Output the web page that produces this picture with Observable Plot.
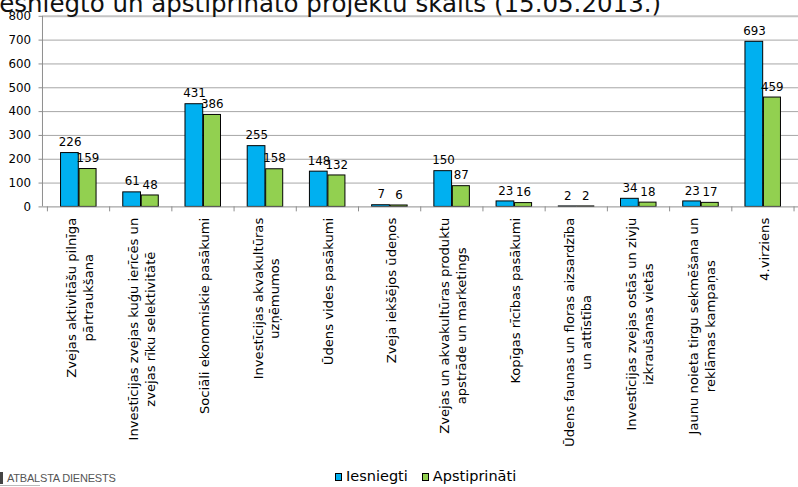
<!DOCTYPE html>
<html><head><meta charset="utf-8">
<script src="https://cdn.jsdelivr.net/npm/d3@7"></script>
<script src="https://cdn.jsdelivr.net/npm/@observablehq/plot@0.6"></script>
<style>
html,body{margin:0;padding:0;background:#fff;overflow:hidden}
#wrap{position:relative;width:798px;height:487px;overflow:hidden;font-family:"DejaVu Sans",sans-serif;color:#000}
#chart{position:absolute;left:0;top:0}
#title{position:absolute;left:-8px;top:-8px;font-size:24.5px;line-height:24px;white-space:nowrap;color:#111}
#legend{position:absolute;top:468px;left:335px;font-size:14.5px;line-height:16px;display:flex;align-items:center}
#legend .it{display:flex;align-items:center;margin-right:14px}
#legend .sw{width:5px;height:6px;border:1px solid #000;margin-right:4px;margin-top:2px}
#logo{position:absolute;left:0;top:472px;font-family:"Liberation Sans",sans-serif;font-size:11px;color:#555;letter-spacing:-0.2px;border-left:3px solid #444;padding-left:4px;line-height:12px}
#logoline{position:absolute;left:0;top:485px;width:40px;height:1px;background:#bbb}
</style></head><body>
<div id="wrap">
<div id="chart"></div>
<div id="title">Iesniegto un apstiprināto projektu skaits (15.05.2013.)</div>
<div id="legend"></div>
<div id="logo">ATBALSTA DIENESTS</div>
<div id="logoline"></div>
</div>
<script>
const categories = [
  "Zvejas aktivitāšu pilnīga\npārtraukšana",
  "Investīcijas zvejas kuģu ierīcēs un\nzvejas rīku selektivitātē",
  "Sociāli ekonomiskie pasākumi",
  "Investīcijas akvakultūras\nuzņēmumos",
  "Ūdens vides pasākumi",
  "Zveja iekšējos ūdeņos",
  "Zvejas un akvakultūras produktu\napstrāde un marketings",
  "Kopīgas rīcības pasākumi",
  "Ūdens faunas un floras aizsardzība\nun attīstība",
  "Investīcijas zvejas ostās un zivju\nizkraušanas vietās",
  "Jaunu noieta tirgu sekmēšana un\nreklāmas kampaņas",
  "4.virziens"
];
const iesniegti = [226, 61, 431, 255, 148, 7, 150, 23, 2, 34, 23, 693];
const apstiprinati = [159, 48, 386, 158, 132, 6, 87, 16, 2, 18, 17, 459];
const seriesNames = ["Iesniegti", "Apstiprināti"];
const seriesColors = ["#00B0F0", "#92D050"];
const yTicks = [0, 100, 200, 300, 400, 500, 600, 700, 800];

const rows = categories.map((c, i) => ({cat: c, v1: iesniegti[i], v2: apstiprinati[i]}));

// custom mark: y-axis line and category boundary ticks, using Plot's scales
function axisLines(index, scales, values, dims) {
  const g = d3.create("svg:g");
  const x = scales.x, y = scales.y;
  const bw = x.bandwidth();
  const y0 = y(0);
  const xs = categories.map(c => x(c)).concat([x(categories[categories.length - 1]) + bw]);
  g.selectAll("line.t").data(xs).join("line")
    .attr("x1", d => d).attr("x2", d => d)
    .attr("y1", y0).attr("y2", y0 + 5)
    .attr("stroke", "#8c8c8c");
  g.append("line")
    .attr("x1", dims.marginLeft).attr("x2", dims.marginLeft)
    .attr("y1", y(800)).attr("y2", y0)
    .attr("stroke", "#8c8c8c");
  return g.node();
}

const plot = Plot.plot({
  width: 808,
  height: 465,
  marginLeft: 43,
  marginRight: 0,
  marginTop: 16,
  marginBottom: 256,
  style: {fontFamily: "DejaVu Sans", fontSize: "12px", color: "#000", background: "transparent"},
  x: {domain: categories, padding: 0},
  y: {domain: [0, 800]},
  marks: [
    Plot.ruleY(yTicks.filter(d => d > 0 && d < 800), {stroke: "#a6a6a6", strokeWidth: 1}),
    Plot.ruleY([800], {stroke: "#c4c4c4", strokeWidth: 2}),
    Plot.barY(rows, {x: "cat", y: "v1", fill: seriesColors[0], stroke: "#000", strokeWidth: 1, insetLeft: 13.3, insetRight: 31.75}),
    Plot.barY(rows, {x: "cat", y: "v2", fill: seriesColors[1], stroke: "#000", strokeWidth: 1, insetLeft: 32, insetRight: 13.75}),
    Plot.ruleY([0], {stroke: "#8c8c8c"}),
    axisLines,
    Plot.text(rows, {x: "cat", y: "v1", text: d => String(d.v1), dx: -9, dy: -7, lineAnchor: "bottom", fontSize: 12}),
    Plot.text(rows, {x: "cat", y: "v2", text: d => String(d.v2), dx: 9, dy: -7, lineAnchor: "bottom", fontSize: 12}),
    Plot.axisY({ticks: yTicks, tickSize: 4, tickPadding: 8, stroke: "#8c8c8c", fontSize: 12, tickFormat: d => String(d), label: null}),
    Plot.axisX({tickSize: 0, tickRotate: -90, tickPadding: 11, fontSize: 13.3, lineHeight: 1.28, tickFormat: d => d, label: null})
  ]
});
document.getElementById("chart").appendChild(plot);

// center each line of multi-line category labels relative to the longest line
plot.querySelectorAll('g[aria-label="x-axis tick label"] text').forEach(t => {
  const spans = Array.from(t.querySelectorAll("tspan"));
  if (spans.length < 2) return;
  const lens = spans.map(s => s.getComputedTextLength());
  const max = Math.max(...lens);
  spans.forEach((s, i) => s.setAttribute("x", -(max - lens[i]) / 2));
});

// legend
const leg = document.getElementById("legend");
seriesNames.forEach((n, i) => {
  const it = document.createElement("div");
  it.className = "it";
  it.innerHTML = `<span class="sw" style="background:${seriesColors[i]}"></span><span>${n}</span>`;
  leg.appendChild(it);
});
</script>
</body></html>
